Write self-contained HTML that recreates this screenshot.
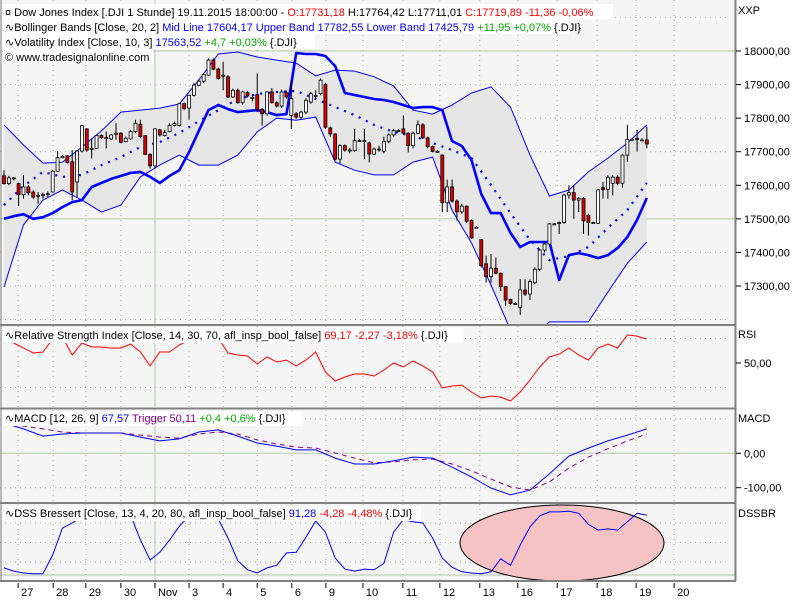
<!DOCTYPE html>
<html><head><meta charset="utf-8"><title>Dow Jones Index chart</title>
<style>
html,body{margin:0;padding:0;background:#fff;}
svg{display:block;font-family:"Liberation Sans",sans-serif;font-size:11px;}
</style></head>
<body>
<svg id="chart" width="800" height="600" viewBox="0 0 800 600" xmlns="http://www.w3.org/2000/svg">
<defs>
<clipPath id="clipMain"><rect x="0" y="0" width="735" height="324"/></clipPath>
<clipPath id="clipRsi"><rect x="0" y="326" width="735" height="81"/></clipPath>
<clipPath id="clipMacd"><rect x="0" y="410" width="735" height="92"/></clipPath>
<clipPath id="clipDss"><rect x="0" y="504" width="735" height="76"/></clipPath>
</defs>
<rect x="0" y="0" width="800" height="600" fill="#ffffff"/>
<rect x="0" y="0" width="735" height="324" fill="#f5f5f5"/>
<rect x="0" y="326" width="735" height="81" fill="#f5f5f5"/>
<rect x="0" y="410" width="735" height="92" fill="#f5f5f5"/>
<rect x="0" y="504" width="735" height="76" fill="#f5f5f5"/>
<g id="grid"></g>
<g id="bands" clip-path="url(#clipMain)"></g>
<g id="candles" clip-path="url(#clipMain)"></g>
<g id="rsi" clip-path="url(#clipRsi)"></g>
<g id="macd" clip-path="url(#clipMacd)"></g>
<ellipse cx="562" cy="543" rx="102" ry="38" fill="#f5c3c3" stroke="#000" stroke-width="1" clip-path="url(#clipDss)"/>
<g id="dss" clip-path="url(#clipDss)"></g>
<g id="frame" stroke="#808080" stroke-width="2" fill="none">
<line x1="0" y1="325" x2="736" y2="325"/><line x1="0" y1="408.5" x2="736" y2="408.5"/>
<line x1="0" y1="503" x2="736" y2="503"/><line x1="0" y1="581" x2="736" y2="581"/>
<line x1="735.5" y1="0" x2="735.5" y2="581"/><line x1="1" y1="0" x2="1" y2="581" stroke-width="1"/>
</g>
<g id="axes"></g>
<g>
<rect x="3" y="4" width="610" height="15" fill="#fff"/>
<rect x="3" y="19" width="566" height="15" fill="#fff"/>
<rect x="3" y="34" width="312" height="15" fill="#fff"/>
<rect x="3" y="49" width="150" height="15" fill="#fff"/>
<text x="5" y="16"><tspan>¤ Dow Jones Index [.DJI  1 Stunde] 19.11.2015 18:00:00 - </tspan><tspan fill="#ff0000">O:17731,18</tspan><tspan> H:17764,42 L:17711,01 </tspan><tspan fill="#ff0000">C:17719,89 -11,36 -0,06%</tspan></text>
<text x="5" y="31"><tspan>∿Bollinger Bands [Close, 20, 2] </tspan><tspan fill="#0000ff">Mid Line 17604,17 Upper Band 17782,55 Lower Band 17425,79</tspan><tspan fill="#00aa00"> +11,95 +0,07%</tspan><tspan> {.DJI}</tspan></text>
<text x="5" y="46"><tspan>∿Volatility Index [Close, 10, 3] </tspan><tspan fill="#0000ff">17563,52</tspan><tspan fill="#00aa00"> +4,7 +0,03%</tspan><tspan> {.DJI}</tspan></text>
<text x="5" y="61">© www.tradesignalonline.com</text>
</g>
<g>
<rect x="3" y="328" width="460" height="15" fill="#fff"/>
<text x="5" y="339"><tspan>∿Relative Strength Index [Close, 14, 30, 70, afl_insp_bool_false] </tspan><tspan fill="#ff0000">69,17 -2,27 -3,18%</tspan><tspan> {.DJI}</tspan></text>
</g>
<g>
<rect x="3" y="411" width="300" height="15" fill="#fff"/>
<text x="5" y="422"><tspan>∿MACD [12, 26, 9] </tspan><tspan fill="#0000ff">67,57</tspan><tspan fill="#880088"> Trigger 50,11</tspan><tspan fill="#00aa00"> +0,4 +0,6%</tspan><tspan> {.DJI}</tspan></text>
</g>
<g>
<rect x="3" y="506" width="418" height="15" fill="#fff"/>
<text x="5" y="517"><tspan>∿DSS Bressert [Close, 13, 4, 20, 80, afl_insp_bool_false] </tspan><tspan fill="#0000ff">91,28</tspan><tspan fill="#ff0000"> -4,28 -4,48%</tspan><tspan> {.DJI}</tspan></text>
</g>
</svg>
<script>
const opens=[17628,17605,17622,17605,17572,17595,17580,17568,17570,17572,17580,17642,17682,17688,17670,17610,17702,17768,17708,17710,17748,17740,17738,17752,17755,17730,17738,17760,17782,17748,17692,17658,17765,17748,17760,17778,17778,17843,17830,17868,17898,17910,17928,17973,17946,17925,17923,17863,17883,17846,17876,17862,17870,17826,17813,17878,17846,17836,17876,17808,17813,17803,17818,17848,17866,17873,17900,17771,17753,17678,17718,17705,17703,17733,17733,17726,17693,17708,17701,17731,17750,17763,17768,17755,17718,17755,17780,17741,17715,17701,17690,17548,17595,17553,17521,17538,17495,17475,17438,17366,17328,17353,17338,17298,17260,17248,17236,17288,17276,17310,17350,17407,17425,17485,17488,17489,17571,17578,17556,17561,17511,17489,17487,17593,17588,17606,17624,17606,17690,17737,17740,17735,17735];
const closes=[17605,17622,17620,17572,17595,17578,17565,17570,17572,17575,17642,17682,17686,17668,17580,17702,17778,17705,17710,17748,17742,17742,17750,17755,17728,17740,17760,17785,17745,17692,17658,17768,17750,17757,17778,17784,17843,17828,17868,17898,17910,17930,17973,17946,17918,17928,17863,17883,17846,17878,17866,17862,17826,17813,17878,17846,17836,17878,17863,17858,17803,17818,17853,17873,17868,17913,17773,17753,17678,17718,17705,17705,17733,17733,17733,17693,17708,17707,17731,17750,17763,17763,17755,17718,17755,17780,17741,17715,17701,17701,17548,17595,17553,17521,17538,17493,17443,17475,17361,17328,17353,17338,17298,17258,17248,17248,17288,17276,17313,17350,17407,17425,17485,17485,17489,17571,17578,17556,17561,17494,17489,17489,17586,17587,17624,17624,17606,17690,17737,17737,17736,17735,17723];
const highs=[17645,17628,17625,17608,17630,17600,17585,17580,17578,17582,17645,17702,17690,17690,17705,17705,17780,17770,17740,17750,17752,17760,17752,17785,17758,17745,17765,17795,17795,17750,17695,17770,17768,17765,17785,17790,17846,17846,17870,17905,17915,17935,17978,17978,17950,17968,17928,17888,17888,17882,17880,17870,17933,17830,17880,17890,17850,17885,17882,17913,17818,17822,17860,17878,17883,17918,17905,17775,17755,17722,17722,17712,17768,17738,17768,17730,17712,17718,17745,17755,17768,17768,17808,17758,17760,17793,17785,17745,17718,17704,17692,17617,17617,17558,17545,17540,17498,17478,17440,17390,17395,17385,17340,17300,17262,17252,17320,17320,17320,17355,17410,17430,17487,17488,17492,17575,17600,17598,17565,17565,17515,17492,17590,17610,17630,17630,17630,17692,17780,17740,17765,17740,17775];
const lows=[17602,17600,17615,17538,17560,17570,17560,17545,17560,17565,17578,17640,17680,17665,17555,17565,17698,17700,17680,17708,17738,17710,17735,17735,17725,17728,17735,17755,17742,17690,17650,17650,17745,17745,17758,17775,17775,17825,17795,17865,17895,17905,17925,17943,17915,17883,17860,17860,17843,17840,17862,17850,17818,17778,17808,17843,17832,17830,17858,17768,17798,17798,17812,17843,17860,17868,17768,17745,17673,17665,17700,17695,17700,17730,17678,17668,17690,17700,17695,17725,17745,17758,17750,17698,17710,17752,17738,17710,17698,17698,17520,17520,17548,17495,17515,17488,17440,17472,17355,17310,17310,17335,17285,17240,17244,17244,17214,17270,17258,17305,17345,17400,17420,17482,17455,17485,17560,17500,17520,17455,17450,17486,17485,17560,17560,17570,17600,17593,17670,17734,17700,17732,17710];
const bandStep=4;
const fineStep=2;
const upperBand=[17780,17720,17666,17669,17714,17762,17818,17824,17830,17842,17914,17991,17997,17982,17973,17964,17926,17943,17940,17923,17896,17824,17812,17839,17875,17893,17833,17690,17568,17586,17640,17681,17726,17780];
const midBand=[17541,17598,17640,17625,17631,17660,17684,17714,17729,17756,17791,17824,17857,17872,17878,17881,17857,17833,17809,17780,17759,17747,17726,17705,17681,17601,17517,17437,17377,17389,17416,17473,17526,17607];
const lowerBand=[17297,17482,17556,17586,17556,17520,17541,17625,17660,17690,17660,17660,17690,17759,17800,17794,17803,17669,17645,17631,17631,17669,17684,17526,17428,17303,17169,17139,17193,17193,17193,17282,17368,17431];
const volIndex=[17500,17508,17514,17500,17505,17517,17535,17550,17556,17595,17607,17619,17628,17637,17640,17625,17607,17628,17645,17699,17762,17824,17839,17827,17818,17821,17824,17818,17809,17812,17994,17991,17991,17985,17955,17875,17869,17863,17857,17854,17848,17839,17830,17833,17833,17824,17732,17717,17675,17574,17517,17517,17458,17416,17431,17431,17431,17318,17392,17398,17392,17383,17392,17413,17446,17497,17562];
const rsiValues=[70.4,66.3,62.2,58.2,59.0,69.6,71.2,56.5,66.3,63.1,63.1,62.2,62.2,65.5,59.0,47.6,59.0,59.0,64.7,68.8,70.4,70.4,70.4,58.2,56.5,55.7,49.2,54.9,50.8,52.4,47.6,52.4,59.0,42.7,35.3,38.6,41.0,41.0,39.4,44.3,50.0,46.7,51.6,47.6,42.7,29.6,31.2,32.0,26.3,21.4,23.1,22.2,19.0,26.3,36.1,46.7,54.9,57.3,62.2,56.5,52.4,62.2,65.5,62.2,72.9,72.0,69.6];
const macdValues=[88,71,50,56,59,59,59,47,36,42,62,68,50,30,21,10,10,-14,-31,-31,-22,-11,-14,-40,-69,-101,-121,-107,-60,-8,15,36,53,71];
const triggerValues=[88,79,71,62,59,59,59,53,47,44,56,62,56,39,27,18,15,1,-14,-28,-25,-19,-17,-31,-51,-75,-98,-107,-83,-43,-11,13,36,56];
const dssValues=[11,6,3,2,2,31,72,80,89,97,97,97,97,92,54,23,35,54,75,91,97,97,86,57,22,8,3,11,15,34,35,58,83,66,26,9,6,9,8,18,66,85,82,80,57,26,12,5,3,2,5,25,15,46,74,91,97,97,98,95,78,69,71,69,82,95,92];
const dayTickIdx=[2.9,10.1,16.8,24,31,38,45,52,59.1,66.1,73.7,81.9,89.5,97.7,105.5,113.6,121.8,129.8,137.6];
const dayLabels=["27","28","29","30","Nov","3","4","5","6","9","10","11","12","13","16","17","18","19","20"];
const priceTicks=[18000,17900,17800,17700,17600,17500,17400,17300];
const priceGrid=[18100,18000,17900,17800,17700,17600,17500,17400,17300,17200];

const NS="http://www.w3.org/2000/svg";
const xI=i=>4+4.87*i;
const yP=p=>51+(18000-p)*0.3357;
const yR=v=>363-(v-50)*1.225;
const yM=v=>453.3-v*0.344;
const yD=v=>575-v*0.65;
function mk(tag,attrs,parent){const e=document.createElementNS(NS,tag);for(const k in attrs)e.setAttribute(k,attrs[k]);parent.appendChild(e);return e;}
const grid=document.getElementById('grid');
const axes=document.getElementById('axes');
function hline(y,x2,solid,nm){const l=mk('line',{x1:0,x2:x2,y1:y,y2:y,stroke:solid?'#b4c8ac':'#a8b8a0','stroke-width':1,'stroke-dasharray':solid?'none':'1,4'},grid);

}
priceGrid.forEach(p=>hline(yP(p),p===18000||p===17500?735:726,p===18000||p===17500,'price-gridline'));
[yR(70),yR(30)].forEach(y=>hline(y,726,false,'rsi-gridline'));
hline(yM(100),726,false,'macd-gridline');hline(yM(-100),726,false,'macd-gridline');hline(yM(0),735,true,'macd-zero-line');
[yD(80),yD(50),yD(20)].forEach(y=>hline(y,726,false,'dss-gridline'));hline(yD(0),735,true,'dss-zero-line');
dayTickIdx.forEach((ti,k)=>{const x=xI(ti);const solid=dayLabels[k]==="Nov";
 [[0,324],[326,407],[410,502],[504,580]].forEach(r=>{const l=mk('line',{x1:x,x2:x,y1:r[0],y2:r[1],stroke:solid?'#b4c8ac':'#a8b8a0','stroke-width':1,'stroke-dasharray':solid?'none':'1,4'},grid);
 
 });
 const t=mk('line',{x1:x,x2:x,y1:583,y2:588,stroke:'#000','stroke-width':1},axes);
 
 
 const tx=mk('text',{x:x+3,y:596,fill:'#000'},axes);tx.textContent=dayLabels[k];
 
 });
function ylab(y,txt,nm){const t=mk('line',{x1:736,x2:741,y1:y,y2:y,stroke:'#000'},axes);
 
 
 const tx=mk('text',{x:744,y:y+4,fill:'#000'},axes);tx.textContent=txt;
 
 }
priceTicks.forEach(p=>ylab(yP(p),p.toLocaleString('de-DE',{minimumFractionDigits:2,useGrouping:false}),'price-tick-label'));
ylab(yR(50),'50,00','rsi-tick-label');ylab(yM(0),'0,00','macd-tick-label');ylab(yM(-100),'-100,00','macd-tick-label');
[['XXP',14],['RSI',338],['MACD',422],['DSSBR',517]].forEach(a=>{const tx=mk('text',{x:738,y:a[1],fill:'#000'},axes);tx.textContent=a[0];
 
 });

function pts(arr,yf,step){return arr.map((v,k)=>xI(k*step).toFixed(1)+','+yf(v).toFixed(1));}
const bands=document.getElementById('bands');
const fillPts=pts(upperBand,yP,bandStep).concat(pts(lowerBand,yP,bandStep).reverse()).join(' ');
const bf=mk('polygon',{points:fillPts,fill:'#e6e6e6',stroke:'none'},bands);


function line(g,arr,yf,step,attrs,nm){const a=Object.assign({points:pts(arr,yf,step).join(' '),fill:'none'},attrs);const e=mk('polyline',a,g);
 
 return e;}
line(bands,upperBand,yP,bandStep,{stroke:'#0000ff','stroke-width':1},'upper-band');
line(bands,lowerBand,yP,bandStep,{stroke:'#0000ff','stroke-width':1},'lower-band');
line(bands,midBand,yP,bandStep,{stroke:'#0000ff','stroke-width':2.2,'stroke-dasharray':'2,6'},'mid-band');
line(bands,volIndex,yP,fineStep,{stroke:'#0000ff','stroke-width':2.6,'stroke-linejoin':'round'},'volatility-index');

const cg=document.getElementById('candles');
closes.forEach((c,i)=>{const o=opens[i],x=xI(i);
 const w=mk('line',{x1:x,x2:x,y1:yP(highs[i]),y2:yP(lows[i]),stroke:'#000','stroke-width':1},cg);
 
 
 const top=yP(Math.max(o,c)),bot=yP(Math.min(o,c));
 const b=mk('rect',{x:x-1.5,y:top,width:3,height:Math.max(bot-top,1),fill:c<o?'#e00000':'#ffffff',stroke:'#000','stroke-width':0.8},cg);
 
 });

line(document.getElementById('rsi'),rsiValues,yR,fineStep,{stroke:'#ff0000','stroke-width':1},'rsi-line');
line(document.getElementById('macd'),triggerValues,yM,bandStep,{stroke:'#880088','stroke-width':1,'stroke-dasharray':'5,4'},'macd-trigger-line');
line(document.getElementById('macd'),macdValues,yM,bandStep,{stroke:'#0000ff','stroke-width':1},'macd-line');
line(document.getElementById('dss'),dssValues,yD,fineStep,{stroke:'#0000ff','stroke-width':1},'dss-line');
</script>
</body></html>
